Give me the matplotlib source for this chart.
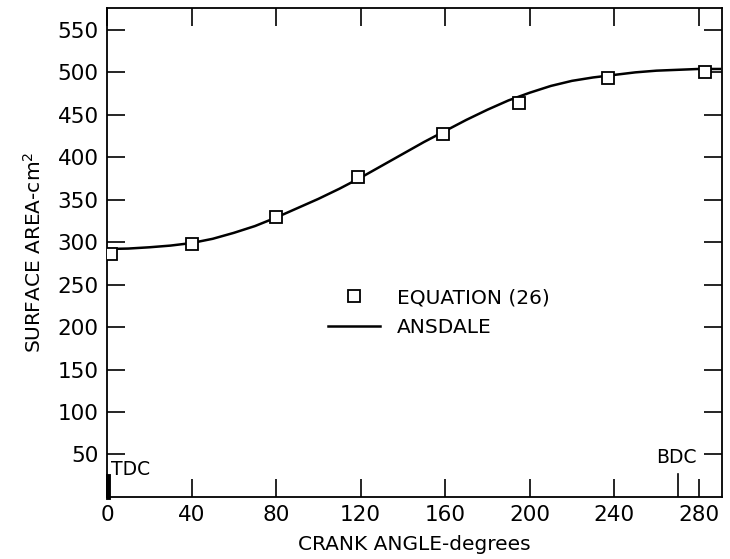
import numpy as np
import matplotlib.pyplot as plt

# puntos de la ecuacion (26)
eq_angle = [2, 40, 80, 119, 159, 195, 237, 283]
eq_area = [286, 298, 330, 377, 427, 464, 493, 501]

# curva de Ansdale
ans_angle = [0, 10, 20, 30, 40, 50, 60, 70, 80, 90, 100, 110, 120, 130, 140,
             150, 160, 170, 180, 190, 200, 210, 220, 230, 240, 250, 260, 270,
             280, 290]
ans_area = [292, 292.5, 294, 296, 299, 304, 311, 319, 329, 340, 351, 363, 376,
            390, 404, 418, 431, 444, 456, 467, 476, 484, 490, 494, 497, 500,
            502, 503, 504, 504]

xticks = [0, 40, 80, 120, 160, 200, 240, 280]
yticks = [50, 100, 150, 200, 250, 300, 350, 400, 450, 500, 550]

plt.rcParams['font.family'] = 'DejaVu Sans'

fig = plt.figure(figsize=(7.3, 5.59), dpi=100)
ax = fig.add_axes([0.1466, 0.111, 0.8424, 0.875])

ax.plot(ans_angle, ans_area, color='black', lw=1.8, label='ANSDALE')
ax.plot(eq_angle, eq_area, ls='none', marker='s', ms=8.5, mfc='white',
        mec='black', mew=1.3, label='EQUATION (26)', zorder=3)

ax.set_xlim(0, 291)
ax.set_ylim(0, 576)
ax.set_xticks(xticks)
ax.set_yticks(yticks)
ax.tick_params(direction='in', length=13, width=1.2, top=True, right=True,
               labelsize=15.5, pad=6)
for s in ax.spines.values():
    s.set_linewidth(1.3)

# marcas TDC / BDC
ax.plot([0.6, 0.6], [0, 25], color='black', lw=3.5, clip_on=False)
ax.plot([270, 270], [0, 27], color='black', lw=1.2)
ax.text(2, 32, 'TDC', fontsize=13.5, va='center', ha='left')
ax.text(269.5, 47, 'BDC', fontsize=13.5, va='center', ha='center')

ax.set_xlabel('CRANK ANGLE-degrees', fontsize=14.5, labelpad=7)
ax.set_ylabel('SURFACE AREA-cm$^2$', fontsize=14.5, labelpad=9)

h, l = ax.get_legend_handles_labels()
ax.legend(h[::-1], l[::-1], loc='center left', bbox_to_anchor=(0.33, 0.377),
          frameon=False, fontsize=14.5, handlelength=2.6, handletextpad=0.8,
          labelspacing=0.5)

fig.savefig('out.png', dpi=100)
